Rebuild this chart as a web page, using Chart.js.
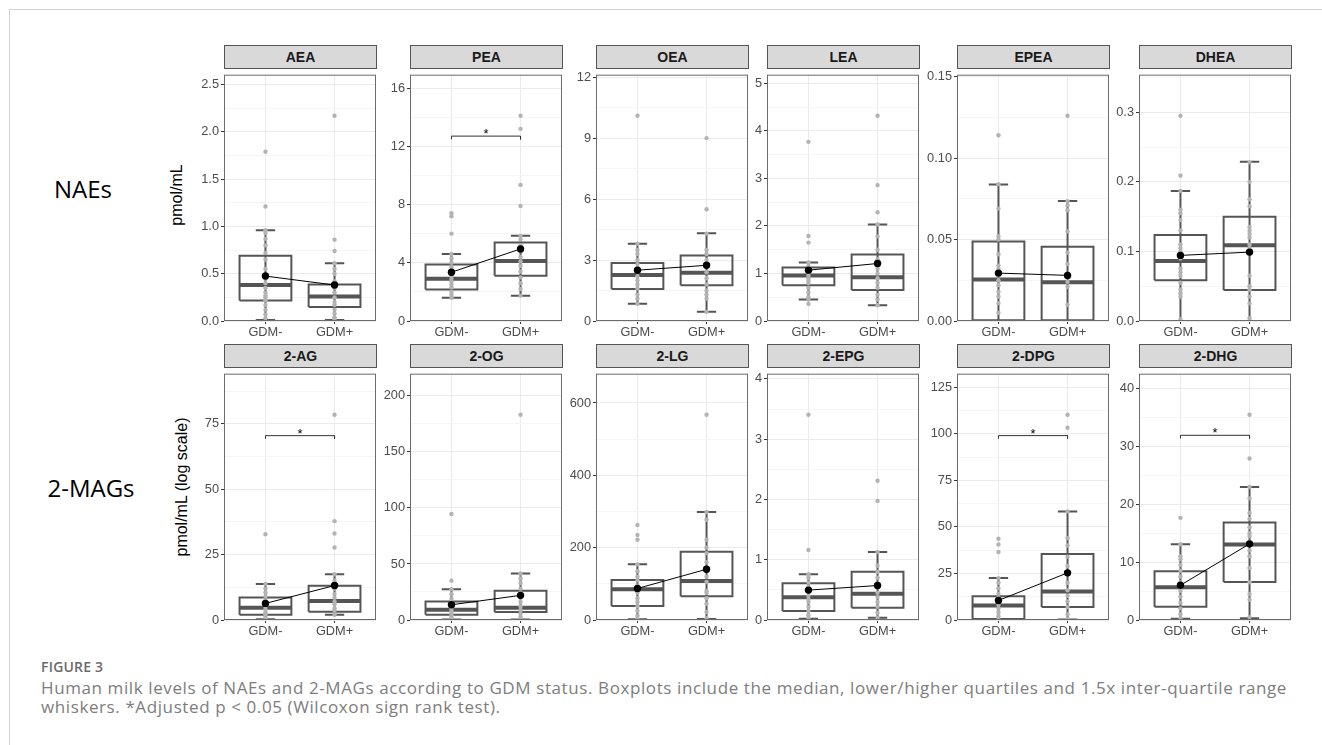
<!DOCTYPE html>
<html lang="en">
<head>
  <meta charset="UTF-8">
  <title>Figure 3</title>
  <script src="https://cdn.jsdelivr.net/npm/chart.js"></script>
  <style>
    body { margin: 0; background: #fff; width: 1322px; height: 745px; overflow: hidden; position: relative; font-family: "Liberation Sans", Arial, sans-serif; }
    .frame { position: absolute; left: 9px; top: 9px; width: 1400px; height: 800px; border-top: 1px solid #d4d4d4; border-left: 1px solid #d4d4d4; }
    .strip { position: absolute; box-sizing: border-box; background: #d9d9d9; border: 1px solid #555; font: bold 14px "Liberation Sans", Arial, sans-serif; color: #1a1a1a; text-align: center; }
    .panel { position: absolute; }
    .lbl { position: absolute; transform: translate(-50%, -50%); white-space: nowrap; }
    .group { font: 24px "Open Sans", sans-serif; color: #000; }
    .ytitle { font: 16px "Liberation Sans", Arial, sans-serif; color: #000; transform: translate(-50%, -50%) rotate(-90deg); }
    .cap { position: absolute; left: 41px; white-space: nowrap; font-family: "Open Sans", sans-serif; }
  </style>
</head>
<body>
  <div class="frame"></div>
  <div class="lbl group" style="left:83px;top:188px">NAEs</div>
  <div class="lbl group" style="left:91px;top:487px">2-MAGs</div>
  <div class="lbl ytitle" style="left:177px;top:195px">pmol/mL</div>
  <div class="lbl ytitle" style="left:182px;top:487px">pmol/mL (log scale)</div>
  <div class="cap" style="top:657px;font-size:14px;font-weight:600;color:#6a6a6a;letter-spacing:0.2px">FIGURE 3</div>
  <div class="cap" style="top:678px;font-size:17px;line-height:19px;letter-spacing:0.6px;color:#7d7d7d">Human milk levels of NAEs and 2-MAGs according to GDM status. Boxplots include the median, lower/higher quartiles and 1.5x inter-quartile range<br>whiskers. *Adjusted p &lt; 0.05 (Wilcoxon sign rank test).</div>
  <div id="panels"></div>
  <script>
    const categories = ['GDM-', 'GDM+'];
    const panelNames = ['AEA', 'PEA', 'OEA', 'LEA', 'EPEA', 'DHEA', '2-AG', '2-OG', '2-LG', '2-EPG', '2-DPG', '2-DHG'];

    // box stats, [GDM-, GDM+] for each panel
    const lowerWhisker = [[0.01, 0.01], [1.6, 1.74], [0.85, 0.45], [0.45, 0.33], [0, 0], [0, 0], [0.3, 2.0], [0.5, 0.5], [2, 3], [0.02, 0.037], [0.3, 0.3], [0.2, 0.3]];
    const quart1 = [[0.217, 0.148], [2.16, 3.1], [1.57, 1.76], [0.75, 0.65], [0.0005, 0.0005], [0.0584, 0.0444], [1.98, 3.2], [4.6, 7.2], [38.6, 65.6], [0.15, 0.205], [0.5, 7.0], [2.3, 6.57]];
    const medians = [[0.38, 0.26], [2.9, 4.13], [2.26, 2.37], [0.96, 0.92], [0.0254, 0.0238], [0.0864, 0.1088], [4.7, 7.3], [9.2, 11], [85.3, 107.9], [0.377, 0.437], [7.85, 15.35], [5.67, 13.03]];
    const quart3 = [[0.69, 0.385], [3.88, 5.4], [2.85, 3.22], [1.125, 1.4], [0.0488, 0.0456], [0.1237, 0.1498], [8.58, 13.06], [16.5, 26.1], [110.6, 189], [0.61, 0.8], [12.7, 35.4], [8.43, 16.86]];
    const upperWhisker = [[0.96, 0.61], [4.6, 5.85], [3.8, 4.32], [1.23, 2.03], [0.0838, 0.0736], [0.187, 0.2287], [13.8, 17.5], [27.5, 41.5], [153.8, 298.5], [0.76, 1.127], [22.5, 58.3], [13.09, 22.98]];
    const means = [[0.475, 0.38], [3.35, 4.95], [2.5, 2.74], [1.07, 1.21], [0.0294, 0.028], [0.0943, 0.099], [6.34, 13.17], [13.6, 22], [87.2, 140.3], [0.496, 0.572], [10.5, 25.3], [6.0, 13.15]];

    // individual samples
    const pointsNeg = [
      [1.79, 1.21, 0.96, 0.93, 0.87, 0.8, 0.72, 0.65, 0.55, 0.45, 0.4, 0.35, 0.3, 0.27, 0.25, 0.22, 0.17, 0.12, 0.07, 0.03],
      [7.4, 7.2, 6.0, 4.6, 4.3, 4.0, 3.7, 3.4, 3.1, 2.9, 2.7, 2.5, 2.3, 2.0, 1.8, 1.6],
      [10.1, 3.8, 3.5, 3.3, 3.0, 2.8, 2.6, 2.4, 2.2, 2.0, 1.8, 1.6, 1.3, 1.1, 0.85],
      [3.77, 1.79, 1.65, 1.23, 1.15, 1.1, 1.0, 0.95, 0.9, 0.85, 0.8, 0.7, 0.6, 0.5, 0.45, 0.36],
      [0.114, 0.084, 0.069, 0.052, 0.05, 0.041, 0.034, 0.032, 0.028, 0.025, 0.022, 0.018, 0.015, 0.011, 0.005],
      [0.295, 0.209, 0.187, 0.16, 0.155, 0.145, 0.13, 0.11, 0.105, 0.1, 0.09, 0.075, 0.07, 0.065, 0.055, 0.045, 0.04, 0.035, 0.003],
      [32.8, 13.8, 12, 10.5, 9, 7.5, 6, 5, 4, 3, 2.2, 1.2, 0.5],
      [94.6, 35.1, 27.5, 23, 19, 16, 13, 10, 8, 6, 4, 2, 1],
      [262.6, 235, 222, 153.8, 135, 120, 110, 95, 85, 75, 60, 50, 38, 25, 12, 3],
      [3.405, 1.16, 0.76, 0.7, 0.62, 0.55, 0.48, 0.4, 0.35, 0.3, 0.22, 0.15, 0.08, 0.02],
      [43.6, 40.5, 36.5, 22.5, 20, 17, 14, 12, 10, 8, 6, 4, 2, 0.5],
      [17.64, 13.09, 11, 10.5, 9.5, 8.5, 7.5, 6.5, 5.5, 5, 4, 3, 2, 1, 0.3]
    ];
    const pointsPos = [
      [2.17, 0.86, 0.74, 0.61, 0.55, 0.5, 0.42, 0.35, 0.3, 0.25, 0.2, 0.17, 0.12, 0.08, 0.04, 0.02],
      [14.1, 13.2, 9.35, 7.9, 5.85, 5.6, 5.2, 4.8, 4.4, 4.1, 3.8, 3.4, 3.0, 2.6, 2.2, 1.74],
      [9.0, 5.5, 4.3, 3.5, 3.3, 3.0, 2.7, 2.4, 2.1, 1.8, 1.5, 1.3, 1.1, 0.45],
      [4.32, 2.86, 2.29, 2.03, 1.78, 1.5, 1.3, 1.1, 1.0, 0.9, 0.8, 0.7, 0.55, 0.45, 0.33],
      [0.126, 0.0736, 0.071, 0.068, 0.055, 0.042, 0.035, 0.028, 0.024, 0.021, 0.01],
      [0.228, 0.2, 0.175, 0.165, 0.135, 0.13, 0.125, 0.12, 0.11, 0.105, 0.065, 0.05, 0.045, 0.035, 0.025, 0.004],
      [78.5, 37.8, 33.1, 27.7, 17.5, 15, 12, 10, 8.5, 7, 6, 4.5, 3.5, 2],
      [183.2, 41.5, 37, 33, 28, 24, 20, 16, 12, 9, 6, 3, 1],
      [567.5, 298.5, 277, 222, 200, 185, 160, 120, 105, 80, 75, 60, 45, 22, 5],
      [2.31, 1.976, 1.127, 0.9, 0.8, 0.7, 0.55, 0.45, 0.38, 0.3, 0.22, 0.12, 0.037],
      [110.2, 103.2, 58.3, 44, 40, 34, 29, 25, 20, 16, 13, 10, 7, 3, 0.5],
      [35.45, 27.88, 22.98, 21, 18.5, 17.5, 16, 15, 14.5, 13.5, 12, 11, 9, 6.5, 4.5, 3.5, 0.5]
    ];

    const yTicks = [
      [0, 0.5, 1, 1.5, 2, 2.5], [0, 4, 8, 12, 16], [0, 3, 6, 9, 12], [0, 1, 2, 3, 4, 5], [0, 0.05, 0.1, 0.15], [0, 0.1, 0.2, 0.3],
      [0, 25, 50, 75], [0, 50, 100, 150, 200], [0, 200, 400, 600], [0, 1, 2, 3, 4], [0, 25, 50, 75, 100, 125], [0, 10, 20, 30, 40]
    ];
    const tickDigits = [1, 0, 0, 0, 2, 1, 0, 0, 0, 0, 0, 0];

    const sigPanels = ['PEA', '2-AG', '2-DPG', '2-DHG'];
    const sigHeights = [12.7, 70.5, 99, 31.9];

    // layout of the facet grid
    const colLeft = [224, 410, 596, 767, 957, 1139];
    const rowTop = [68, 367];
    const plotW = 153, plotH = 253, stripH = 23;
    const padL = 45, padT = 3, padR = 3, padB = 25;
    const tickFont = { family: 'Liberation Sans', size: 12.8 };

    const framePlugin = {
      id: 'frame',
      afterDraw(chart) {
        const a = chart.chartArea, c = chart.ctx;
        c.save();
        c.strokeStyle = '#6b6b6b';
        c.lineWidth = 1;
        c.strokeRect(a.left + 0.5, a.top + 0.5, a.right - a.left - 1, a.bottom - a.top - 1);
        c.restore();
      }
    };
    const starPlugin = {
      id: 'star',
      afterDatasetsDraw(chart, args, opts) {
        if (opts.y == null) return;
        const c = chart.ctx;
        c.save();
        c.fillStyle = '#000';
        c.font = '13px "Liberation Sans", Arial';
        c.textAlign = 'center';
        c.textBaseline = 'alphabetic';
        c.fillText('*', chart.scales.x.getPixelForValue(1.5), chart.scales.y.getPixelForValue(opts.y) + 2);
        c.restore();
      }
    };

    function line(pts, width, color) {
      return { data: pts, showLine: true, borderColor: color, borderWidth: width, pointRadius: 0, borderCapStyle: 'butt', borderJoinStyle: 'miter' };
    }

    function buildDatasets(i, ymax) {
      const ds = [];
      const dark = '#555555';
      for (let g = 0; g < 2; g++) {
        const x = g + 1, hw = 0.375, cw = 0.14;
        ds.push(line([{ x: x, y: lowerWhisker[i][g] }, { x: x, y: upperWhisker[i][g] }], 2, dark));
        ds.push(line([{ x: x - cw, y: lowerWhisker[i][g] }, { x: x + cw, y: lowerWhisker[i][g] }], 2, dark));
        ds.push(line([{ x: x - cw, y: upperWhisker[i][g] }, { x: x + cw, y: upperWhisker[i][g] }], 2, dark));
        ds.push(line([
          { x: x - hw, y: quart1[i][g] }, { x: x + hw, y: quart1[i][g] },
          { x: x + hw, y: quart3[i][g] }, { x: x - hw, y: quart3[i][g] },
          { x: x - hw, y: quart1[i][g] }
        ], 2, dark));
        ds.push(line([{ x: x - hw, y: medians[i][g] }, { x: x + hw, y: medians[i][g] }], 4, dark));
      }
      [pointsNeg[i], pointsPos[i]].forEach((arr, g) => {
        ds.push({ data: arr.map(v => ({ x: g + 1, y: v })), pointRadius: 2.2, pointBackgroundColor: '#b3b3b3', pointBorderWidth: 0, showLine: false });
      });
      const s = sigPanels.indexOf(panelNames[i]);
      if (s >= 0) {
        const h = sigHeights[s], d = ymax * 0.013;
        ds.push(line([{ x: 1, y: h - d }, { x: 1, y: h }, { x: 2, y: h }, { x: 2, y: h - d }], 1, '#333'));
      }
      ds.push({
        data: means[i].map((m, g) => ({ x: g + 1, y: m })), showLine: true, borderColor: '#000', borderWidth: 1,
        pointRadius: 3.7, pointBackgroundColor: '#000', pointBorderWidth: 0
      });
      return ds.reverse();  // first dataset is painted last
    }

    const host = document.getElementById('panels');
    panelNames.forEach((name, i) => {
      const row = i < 6 ? 0 : 1, col = i % 6;
      const left = colLeft[col], top = rowTop[row];

      const strip = document.createElement('div');
      strip.className = 'strip';
      strip.style.cssText = `left:${left}px;top:${top - stripH}px;width:${plotW}px;height:${stripH + 1}px;line-height:${stripH - 1}px`;
      strip.textContent = name;
      host.appendChild(strip);

      const cv = document.createElement('canvas');
      cv.className = 'panel';
      cv.width = padL + plotW + padR;
      cv.height = padT + plotH + padB;
      cv.style.left = (left - padL) + 'px';
      cv.style.top = (top - padT) + 'px';
      host.appendChild(cv);

      const all = pointsNeg[i].concat(pointsPos[i], upperWhisker[i]);
      const ymax = Math.max(...all) * 1.2;
      const majors = yTicks[i];
      const step = majors[1] - majors[0];
      const isMajor = v => Math.abs(v / step - Math.round(v / step)) < 1e-6;
      const sIdx = sigPanels.indexOf(name);

      new Chart(cv, {
        type: 'scatter',
        data: { datasets: buildDatasets(i, ymax) },
        plugins: [framePlugin, starPlugin],
        options: {
          responsive: false,
          animation: false,
          devicePixelRatio: 1,
          layout: { padding: { left: 0, top: padT, right: padR, bottom: 0 } },
          plugins: {
            legend: { display: false },
            tooltip: { enabled: false },
            star: { y: sIdx >= 0 ? sigHeights[sIdx] : null }
          },
          scales: {
            x: {
              type: 'linear', min: 0.4, max: 2.6,
              afterBuildTicks: sc => { sc.ticks = categories.map((c, k) => ({ value: k + 1 })); },
              afterFit: sc => { sc.height = padB; },
              border: { display: false },
              grid: { color: '#ebebeb', lineWidth: 1, tickColor: '#333', tickLength: 3 },
              ticks: { callback: v => categories[Math.round(v) - 1], font: tickFont, color: '#4d4d4d', padding: 1, maxRotation: 0, autoSkip: false }
            },
            y: {
              type: 'linear', min: 0, max: ymax,
              afterBuildTicks: sc => {
                const t = [];
                for (let k = 0; k * step / 2 <= ymax + 1e-9; k++) t.push({ value: k * step / 2 });
                sc.ticks = t;
              },
              afterFit: sc => { sc.width = padL; },
              border: { display: false },
              grid: {
                color: c => (c.tick && isMajor(c.tick.value)) ? '#ebebeb' : '#f5f5f5',
                tickColor: c => (c.tick && isMajor(c.tick.value)) ? '#333' : 'rgba(0,0,0,0)',
                lineWidth: 1, tickLength: 3
              },
              ticks: {
                callback: v => isMajor(v) ? v.toFixed(tickDigits[i]) : '',
                font: tickFont, color: '#4d4d4d', padding: 2, autoSkip: false
              }
            }
          }
        }
      });
    });
  </script>
</body>
</html>
